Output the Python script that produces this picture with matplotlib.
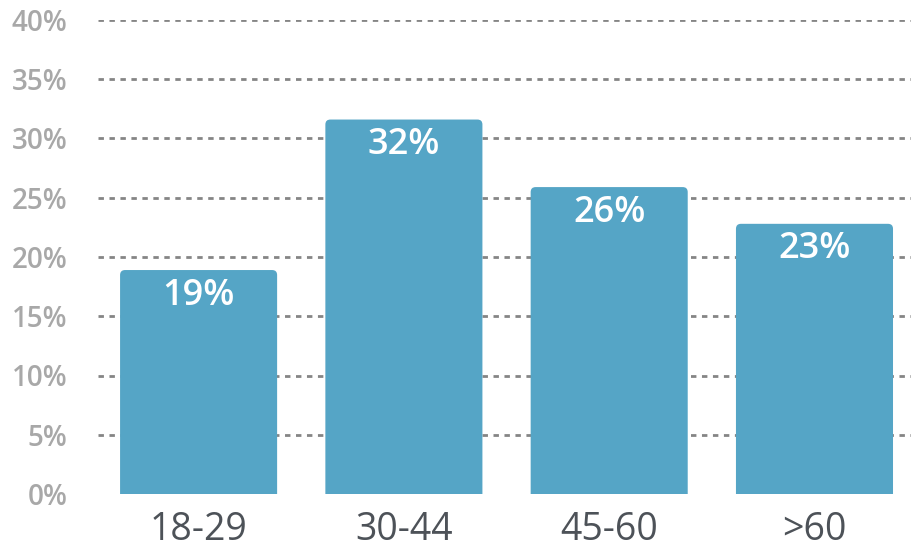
import matplotlib
matplotlib.use("Agg")
import matplotlib.pyplot as plt
from matplotlib.patches import FancyBboxPatch

categories = ["18-29", "30-44", "45-60", ">60"]
values = [18.9, 31.6, 25.9, 22.8]
labels = ["19%", "32%", "26%", "23%"]
yticks = [0, 5, 10, 15, 20, 25, 30, 35, 40]
ytick_labels = ["0%", "5%", "10%", "15%", "20%", "25%", "30%", "35%", "40%"]

BAR = "#55a5c6"
plt.rcParams['font.family'] = ['Open Sans', 'DejaVu Sans']

fig = plt.figure(figsize=(9.12, 5.4), dpi=100)
ax = fig.add_axes([98/912, 1 - 494/540, 1 - 98/912, (494 - 20)/540])

x = list(range(len(categories)))
bars = ax.bar(x, values, width=0.765, color=BAR, zorder=2)

ax.set_xlim(-0.49, 3.475)
ax.set_ylim(0, 40)

# rounded top corners
px_x = 1/205.5
px_y = 1/11.857
r = 5
for b in bars:
    bx, by = b.get_x(), b.get_y()
    w, h = b.get_width(), b.get_height()
    b.set_visible(False)
    p = FancyBboxPatch((bx, by - 2), w, h + 2,
                       boxstyle=f"round,pad=0,rounding_size={r*px_x}",
                       mutation_aspect=px_y/px_x,
                       facecolor=BAR, edgecolor="none", zorder=2, clip_on=True)
    ax.add_patch(p)

for xi, v, lab in zip(x, values, labels):
    ax.annotate(lab, (xi, v), xytext=(0, -5.5), textcoords="offset points",
                ha="center", va="top", color="white", fontsize=26,
                fontweight="semibold", zorder=3)

for yt in yticks[1:]:
    ax.axhline(yt, color="#858585", lw=2.0, ls=(0, (1.95, 2.0)), zorder=1)

ax.set_yticks(yticks)
ax.set_yticklabels(ytick_labels, fontsize=20, color="#a8a8a8", fontweight="semibold")
ax.set_xticks(x)
ax.set_xticklabels(categories, fontsize=27, color="#4d5258")
ax.tick_params(axis="y", length=0, pad=22)
ax.tick_params(axis="x", length=0, pad=12)
for s in ax.spines.values():
    s.set_visible(False)

fig.savefig("out.png", dpi=100)
